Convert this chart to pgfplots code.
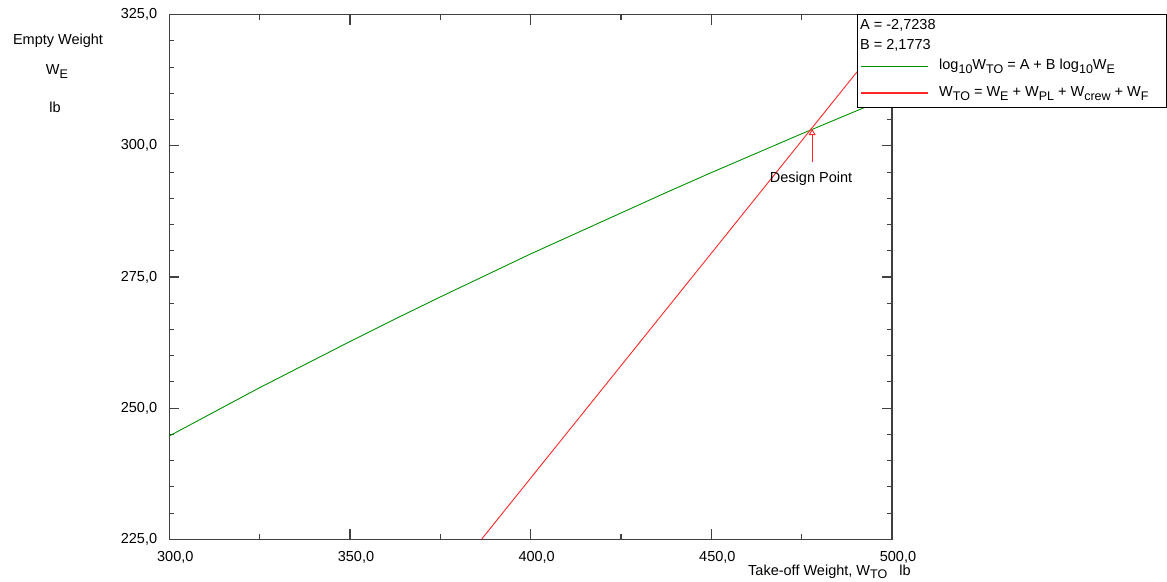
\documentclass[border=0pt]{standalone}
\usepackage{fontspec}
\setmainfont{Liberation Sans}
\usepackage{pgfplots}
\pgfplotsset{compat=1.18}
\usetikzlibrary{arrows.meta}
\definecolor{axgray}{RGB}{64,64,64}
\definecolor{lgreen}{RGB}{0,145,0}
\definecolor{lred}{RGB}{255,40,40}
\newcommand{\sub}[1]{\raisebox{-3.5pt}{\fontsize{12.5}{12}\selectfont #1}}
\begin{document}
\fontsize{14.5}{16}\selectfont
\begin{tikzpicture}
\useasboundingbox (0pt,0pt) rectangle (1167pt,581pt);
\begin{axis}[
  at={(169.3pt,41.7pt)}, anchor=south west,
  scale only axis, width=722.7pt, height=524.6pt,
  xmin=300, xmax=500, ymin=225, ymax=325,
  xtick={300,350,400,450,500}, minor x tick num=1,
  ytick={225,250,275,300,325}, minor y tick num=4,
  tick align=inside,
  major tick length=10pt, minor tick length=5pt,
  axis line style={axgray, line width=1.3pt},
  every tick/.style={axgray, line width=1.1pt},
  /pgf/number format/.cd, fixed, fixed zerofill, precision=1, use comma, assume math mode=true,
  /pgfplots/.cd,
  yticklabel style={font=\fontsize{14.5}{16}\selectfont, inner sep=0pt, anchor=east, xshift=-12pt},
  xticklabel style={font=\fontsize{14.5}{16}\selectfont, inner sep=0pt, anchor=north, yshift=-12pt, xshift=6pt},
  clip=true,
]
\addplot[lgreen, line width=0.9pt] coordinates {
 (300,244.7) (312.5,249.3) (325,253.9) (337.5,258.3) (350,262.7) (362.5,267.0) (375,271.2)
 (387.5,275.3) (400,279.4) (412.5,283.3) (425,287.2) (437.5,291.1) (450,294.9)
 (462.5,298.6) (475,302.3) (487.5,305.9) (500,309.5)
};
\addplot[lred, line width=0.9pt] coordinates {
 (386.4,225.0) (500,322.4)
};
\draw[lred, line width=0.9pt, -{Triangle[open, length=6pt, width=7pt]}] (axis cs:477.9,296.9) -- (axis cs:477.9,303.2);
\node[font=\fontsize{14.5}{16}\selectfont, inner sep=0pt] at (axis cs:477.6,293.7) {Design Point};
\end{axis}
% legend
\draw[black, line width=0.9pt, fill=white] (857.7pt,474pt) rectangle (1166.3pt,566.3pt);
\node[anchor=base west, inner sep=0pt] at (860pt,551pt) {A = -2,7238};
\node[anchor=base west, inner sep=0pt] at (860pt,531.7pt) {B = 2,1773};
\draw[lgreen, line width=1.2pt] (861pt,514.3pt) -- (928pt,514.3pt);
\draw[lred, line width=1.2pt] (861pt,488pt) -- (928pt,488pt);
\node[anchor=base west, inner sep=0pt] at (939pt,511pt) {log\sub{10}W\sub{TO} = A + B log\sub{10}W\sub{E}};
\node[anchor=base west, inner sep=0pt] at (939pt,484.3pt) {W\sub{TO} = W\sub{E} + W\sub{PL} + W\sub{crew} + W\sub{F}};
% axis labels
\node[anchor=base, inner sep=0pt] at (58pt,536pt) {Empty Weight};
\node[anchor=base, inner sep=0pt] at (57pt,506pt) {W\sub{E}};
\node[anchor=base, inner sep=0pt] at (55pt,468pt) {lb};
\node[anchor=base west, inner sep=0pt] at (748pt,6pt) {Take-off Weight, W\sub{TO}\hspace{12pt}lb};
\end{tikzpicture}
\end{document}
